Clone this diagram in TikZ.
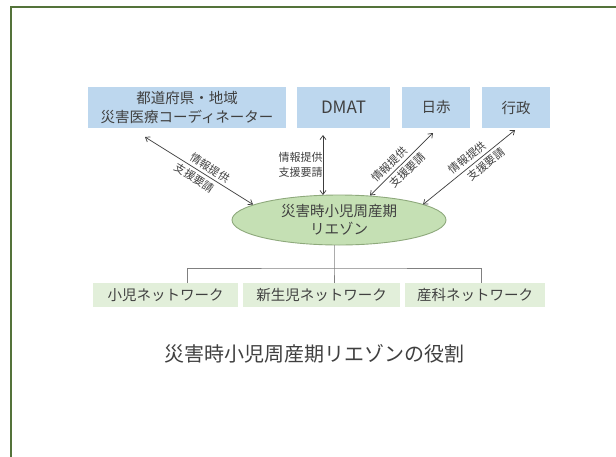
\documentclass[tikz,border=0pt]{standalone}
\usepackage{fontspec}
\setmainfont{Noto Sans CJK JP}
\usetikzlibrary{arrows.meta,shapes.geometric}
\definecolor{txt}{HTML}{404040}
\definecolor{topfill}{HTML}{BDD7EE}
\definecolor{ellfill}{HTML}{C5E0B4}
\definecolor{elldraw}{HTML}{8EA97C}
\definecolor{botfill}{HTML}{E2EFDA}
\definecolor{framec}{HTML}{54733A}
\definecolor{treec}{HTML}{808080}
\definecolor{arrc}{HTML}{3C3C3C}
\tikzset{
  topbox/.style={fill=topfill, minimum height=41pt, inner sep=0pt, align=center, text=txt, font={\fontsize{14.5}{19}\selectfont}},
  botbox/.style={fill=botfill, minimum height=24pt, inner sep=0pt, text=txt, font={\fontsize{14.5}{19}\selectfont}},
  ellbox/.style={ellipse, fill=ellfill, draw=elldraw, line width=0.9pt, minimum width=214pt, minimum height=50pt, inner sep=0pt, align=center, text=txt, font={\fontsize{14.5}{18.5}\selectfont}},
  conn/.style={draw=arrc, line width=0.7pt, {Straight Barb[length=4pt,width=6pt]}-{Straight Barb[length=4pt,width=6pt]}},
  tree/.style={draw=treec, line width=0.9pt},
  lbl/.style={text=txt, font={\fontsize{11}{15}\selectfont}, inner sep=1pt},
  frameline/.style={draw=framec, line width=2pt}
}
\begin{document}
\begin{tikzpicture}[x=1pt,y=-1pt]
\useasboundingbox (0,0) rectangle (616,456);
\fill[white] (0,0) rectangle (616,456);
\draw[frameline] (11,457) -- (11,6.5) -- (617,6.5);

% top boxes
\node[topbox, minimum width=198pt] (pref) at (187,107.5) {都道府県・地域\\災害医療コーディネーター};
\node[topbox, minimum width=93pt, font={\fontsize{17}{19}\selectfont}] (dmat) at (343.5,107.5) {DMAT};
\node[topbox, minimum width=68pt] (jrc) at (436,107.5) {日赤};
\node[topbox, minimum width=68pt] (gov) at (516,107.5) {行政};

% liaison ellipse
\node[ellbox] (liai) at (339,220) {災害時小児周産期\\リエゾン};

% bottom boxes
\node[botbox, minimum width=145pt] (ped) at (165.5,295) {小児ネットワーク};
\node[botbox, minimum width=157pt] (neo) at (321.5,295) {新生児ネットワーク};
\node[botbox, minimum width=140pt] (obs) at (475,295) {産科ネットワーク};

% arrow end points
\coordinate (p1a) at (145,137);
\coordinate (p1b) at (253,204.5);
\coordinate (p2a) at (323,135);
\coordinate (p2b) at (323,195);
\coordinate (p3a) at (370,195.5);
\coordinate (p3b) at (433,133);
\coordinate (p4a) at (423,204.5);
\coordinate (p4b) at (515,130);

\draw[conn] (p1a) -- node[lbl, pos=0.56, sloped, above=2pt] {情報提供} node[lbl, pos=0.5, sloped, below=2pt] {支援要請} (p1b);
\draw[conn] (p2a) -- (p2b);
\node[lbl, align=center] (dmatlbl) at (300.5,164.5) {情報提供\\支援要請};
\draw[conn] (p3a) -- node[lbl, pos=0.40, sloped, above=2pt] {情報提供} node[lbl, pos=0.50, sloped, below=2pt] {支援要請} (p3b);
\draw[conn] (p4a) -- node[lbl, pos=0.54, sloped, above=2pt] {情報提供} node[lbl, pos=0.63, sloped, below=2pt] {支援要請} (p4b);

% tree
\coordinate (tj) at (334,268);
\draw[tree] (334,245) -- (tj) -- (neo.north -| tj);
\draw[tree] (187,283) |- (tj) -| (481,283);

% caption
\node[text=txt, font={\fontsize{20}{24}\selectfont}, inner sep=0pt] (cap) at (314,354) {災害時小児周産期リエゾンの役割};
\end{tikzpicture}
\end{document}
